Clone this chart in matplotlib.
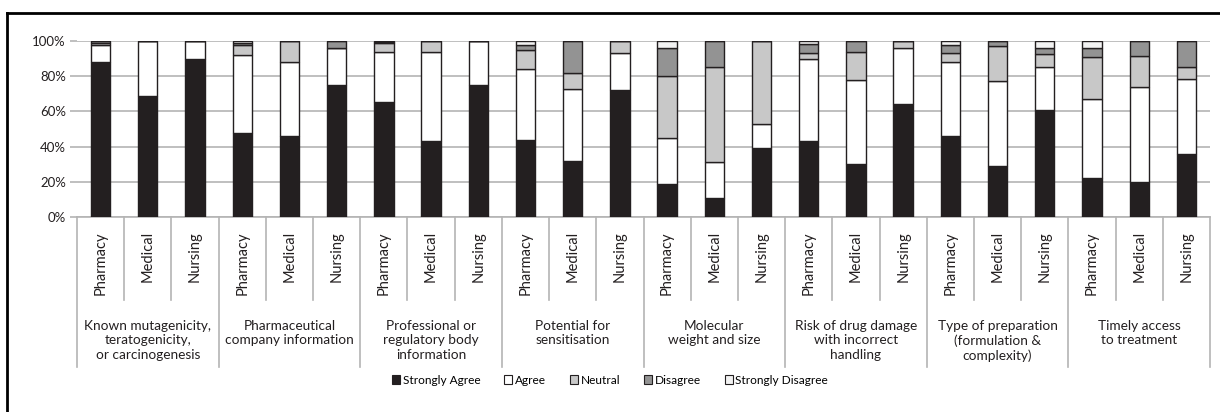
import numpy as np
import matplotlib.pyplot as plt
from matplotlib.patches import Patch
from matplotlib.lines import Line2D

plt.rcParams['font.family'] = ['Lato', 'DejaVu Sans']

groups = [
    "Known mutagenicity,\nteratogenicity,\nor carcinogenesis",
    "Pharmaceutical\ncompany information",
    "Professional or\nregulatory body\ninformation",
    "Potential for\nsensitisation",
    "Molecular\nweight and size",
    "Risk of drug damage\nwith incorrect\nhandling",
    "Type of preparation\n(formulation &\ncomplexity)",
    "Timely access\nto treatment",
]
professions = ["Pharmacy", "Medical", "Nursing"]

# percent per bar, in order group by group (Pharmacy, Medical, Nursing)
strongly_agree = [88, 69, 90, 48, 46, 75, 65.5, 43, 75, 44, 32, 72,
                  19, 11, 39, 43, 30, 64, 46, 29, 61, 22, 20, 36]
agree = [10, 31, 10, 44, 42, 21, 28, 51, 25, 40, 41, 21,
         26, 20, 14, 47, 48, 32, 42, 48, 24.5, 45, 54, 42.5]
neutral = [1, 0, 0, 6, 12, 0, 5.5, 6, 0, 11, 9, 7,
           35, 54.5, 47, 3, 15.5, 4, 5, 20, 7, 24, 17.5, 7]
disagree = [1, 0, 0, 1, 0, 4, 0.5, 0, 0, 3, 18, 0,
            16, 14.5, 0, 5.5, 6.5, 0, 5, 3, 3.5, 5, 8.5, 14.5]
strongly_disagree = [0, 0, 0, 1, 0, 0, 0.5, 0, 0, 2, 0, 0,
                     4, 0, 0, 1.5, 0, 0, 2, 0, 4, 4, 0, 0]

series = [
    ("Strongly Agree", strongly_agree, "#231f20"),
    ("Agree", agree, "#ffffff"),
    ("Neutral", neutral, "#c8c8c8"),
    ("Disagree", disagree, "#939393"),
    ("Strongly Disagree", strongly_disagree, "#f2f2f2"),
]

edge = "#231f20"
grid_c = "#b4b4b4"
txt_c = "#231f20"

W, H = 1220, 412
fig = plt.figure(figsize=(W / 100, H / 100), dpi=100)
ax = fig.add_axes([77 / W, 1 - 217 / H, (1210 - 77) / W, 176 / H])

n = len(strongly_agree)
x = np.arange(n)
bottom = np.zeros(n)
for name, vals, col in series:
    v = np.array(vals, dtype=float) / 100.0
    ax.bar(x, v, width=0.41, bottom=bottom, color=col, edgecolor=edge,
           linewidth=1.0, zorder=3)
    bottom += v

ax.set_xlim(-0.5, n - 0.5)
ax.set_ylim(0, 1)
ax.set_yticks(np.linspace(0, 1, 6))
ax.set_yticklabels(["%d%%" % v for v in range(0, 101, 20)], fontsize=9.5,
                   color=txt_c)
ax.yaxis.grid(True, color=grid_c, linewidth=1.2, zorder=0)
ax.tick_params(axis='y', length=5, color=grid_c, width=1.2, pad=3)
ax.set_xticks([])
for s in ['left', 'right', 'top']:
    ax.spines[s].set_visible(False)
ax.spines['bottom'].set_color(grid_c)
ax.spines['bottom'].set_linewidth(1.2)

trans = ax.get_xaxis_transform()
sub_low = -83 / 176
grp_low = -150 / 176

# category separators
for k in range(n + 1):
    xb = k - 0.5
    low = grp_low if k % 3 == 0 else sub_low
    ax.add_line(Line2D([xb, xb], [0, low], transform=trans, color=grid_c,
                       linewidth=1.2, clip_on=False))

# profession labels
for i in range(n):
    ax.text(i, -0.08, professions[i % 3], transform=trans, rotation=90,
            ha='center', va='top', fontsize=10.5, color=txt_c)

# group labels
for g, label in enumerate(groups):
    ax.text(3 * g + 1, -0.585, label, transform=trans, ha='center', va='top',
            fontsize=9.8, color=txt_c, linespacing=1.25)

handles = [Patch(facecolor=c, edgecolor=edge, linewidth=0.8, label=nm)
           for nm, _, c in series]
fig.legend(handles=handles, loc='center', bbox_to_anchor=(0.5, 1 - 380 / H),
           ncol=5, frameon=False, fontsize=8.6, handlelength=0.7,
           handleheight=0.7, handletextpad=0.2, columnspacing=2.0)

# outer frame (left and top only visible)
fig.add_artist(Line2D([7 / W, 7 / W], [0, 1 - 13 / H], color='black',
                      linewidth=2, transform=fig.transFigure))
fig.add_artist(Line2D([7 / W, 1], [1 - 13 / H, 1 - 13 / H], color='black',
                      linewidth=2, transform=fig.transFigure))

fig.savefig("out.png", dpi=100)
